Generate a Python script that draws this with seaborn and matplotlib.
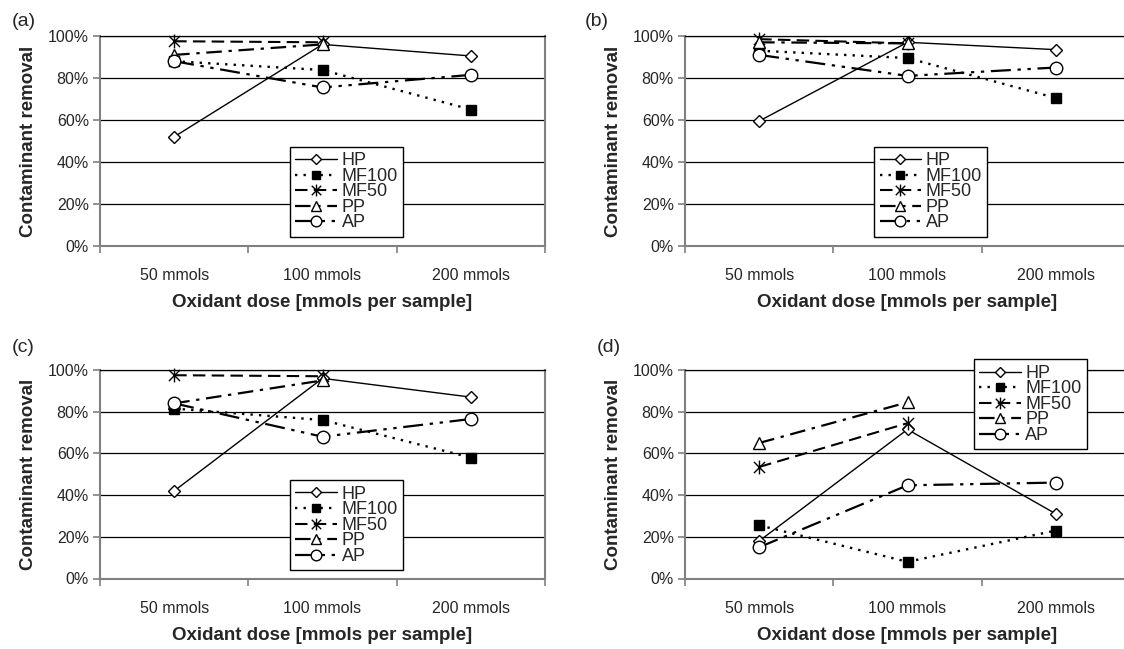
import numpy as np
import pandas as pd
import seaborn as sns
import matplotlib
matplotlib.use("Agg")
import matplotlib.pyplot as plt
from matplotlib.path import Path
from matplotlib.ticker import PercentFormatter, FixedLocator

# Data (fraction of contaminant removed)
doses = ["50 mmols", "100 mmols", "200 mmols"]
series = ["HP", "MF100", "MF50", "PP", "AP"]

a_HP = [0.52, 0.96, 0.905]
a_MF100 = [0.88, 0.838, 0.65]
a_MF50 = [0.975, 0.97, np.nan]
a_PP = [0.91, 0.96, np.nan]
a_AP = [0.88, 0.755, 0.815]

b_HP = [0.595, 0.97, 0.935]
b_MF100 = [0.93, 0.895, 0.705]
b_MF50 = [0.985, 0.965, np.nan]
b_PP = [0.97, 0.965, np.nan]
b_AP = [0.91, 0.81, 0.85]

c_HP = [0.42, 0.96, 0.87]
c_MF100 = [0.815, 0.76, 0.58]
c_MF50 = [0.975, 0.97, np.nan]
c_PP = [0.84, 0.95, np.nan]
c_AP = [0.84, 0.68, 0.765]

d_HP = [0.18, 0.715, 0.31]
d_MF100 = [0.255, 0.08, 0.23]
d_MF50 = [0.535, 0.745, np.nan]
d_PP = [0.65, 0.845, np.nan]
d_AP = [0.15, 0.447, 0.46]

panels = {
    "(a)": [a_HP, a_MF100, a_MF50, a_PP, a_AP],
    "(b)": [b_HP, b_MF100, b_MF50, b_PP, b_AP],
    "(c)": [c_HP, c_MF100, c_MF50, c_PP, c_AP],
    "(d)": [d_HP, d_MF100, d_MF50, d_PP, d_AP],
}

sns.set_style("white")
plt.rcParams['font.family'] = ['Liberation Sans', 'DejaVu Sans']

# asterisk marker: vertical bar plus an X
M, L = Path.MOVETO, Path.LINETO
asterisk = Path([(0, -1), (0, 1), (-0.8, -0.8), (0.8, 0.8), (-0.8, 0.8), (0.8, -0.8)],
                [M, L, M, L, M, L])

styles = {
    "HP":    dict(marker="D", ms=6.5, mfc="white", lw=1.0, ls="-"),
    "MF100": dict(marker="s", ms=6.5, mfc="black", lw=1.7, ls=(0, (1, 2.6))),
    "MF50":  dict(marker=asterisk, ms=10, mfc="none", lw=1.5, ls=(0, (6, 3))),
    "PP":    dict(marker="^", ms=9, mfc="white", lw=1.6, ls=(0, (7, 3, 1.5, 3))),
    "AP":    dict(marker="o", ms=9, mfc="white", lw=1.6, ls=(0, (9, 3, 1.5, 3, 1.5, 3))),
}

fig = plt.figure(figsize=(11.24, 6.49), dpi=100)
W, H = 1124, 649
axes_px = {"(a)": (100, 246, 210), "(b)": (685, 246, 210),
           "(c)": (100, 578.5, 208.5), "(d)": (685, 578.5, 208.5)}
label_px = {"(a)": (12, 22), "(b)": (585, 22), "(c)": (12, 347), "(d)": (597, 347)}
legend_anchor = {"(a)": (0.427, 0.044), "(b)": (0.425, 0.044),
                 "(c)": (0.427, 0.04), "(d)": (0.649, 0.62)}

grey = "#808080"
xpos = np.arange(len(doses))

for key, vals in panels.items():
    left, bottom, height = axes_px[key]
    ax = fig.add_axes([left / W, 1 - bottom / H, 445 / W, height / H])
    ax.yaxis.grid(True, color="black", lw=0.9)
    ax.set_axisbelow(True)

    for name, y in zip(series, vals):
        st = styles[name]
        df = pd.DataFrame({"dose": xpos, "removal": y}).dropna()
        sns.lineplot(data=df, x="dose", y="removal", ax=ax, errorbar=None,
                     color="black", label=name, marker=st["marker"],
                     markersize=st["ms"], markerfacecolor=st["mfc"],
                     markeredgecolor="black", markeredgewidth=1.0,
                     linewidth=st["lw"], linestyle=st["ls"], clip_on=False,
                     zorder=3)

    ax.set_xlim(-0.5, 2.5)
    ax.set_ylim(0, 1)
    ax.set_yticks(np.arange(0, 1.01, 0.2))
    ax.yaxis.set_major_formatter(PercentFormatter(1.0, decimals=0))
    ax.tick_params(axis="y", direction="out", length=5, width=1.2, color=grey,
                   labelsize=11.5, pad=3, left=True)

    # ticks at category boundaries, labels at category centres
    ax.xaxis.set_major_locator(FixedLocator([-0.5, 0.5, 1.5, 2.5]))
    ax.xaxis.set_minor_locator(FixedLocator(xpos))
    ax.set_xticklabels([], minor=False)
    ax.set_xticklabels(doses, minor=True)
    ax.tick_params(axis="x", which="major", direction="out", length=5, width=1.2,
                   color=grey, bottom=True)
    ax.tick_params(axis="x", which="minor", length=0, labelsize=11.5, pad=16)

    for side in ["left", "bottom", "right"]:
        ax.spines[side].set_color(grey)
        ax.spines[side].set_linewidth(1.5)
    ax.spines["top"].set_color("black")
    ax.spines["top"].set_linewidth(0.9)

    ax.set_ylabel("Contaminant removal", fontsize=13.5, fontweight="bold", labelpad=8)
    ax.set_xlabel("Oxidant dose [mmols per sample]", fontsize=13.5,
                  fontweight="bold", labelpad=8)

    leg = ax.legend(loc="lower left", bbox_to_anchor=legend_anchor[key],
                    borderaxespad=0, fontsize=13, frameon=True, fancybox=False,
                    edgecolor="black", framealpha=1, labelspacing=-0.08,
                    handlelength=2.3, handletextpad=0.25, borderpad=0.3,
                    handleheight=0.6, markerscale=0.85)
    leg.get_frame().set_linewidth(1.0)
    leg.set_zorder(10)

    lx, ly = label_px[key]
    fig.text(lx / W, 1 - ly / H, key, fontsize=14, va="center", ha="left")

fig.savefig("out.png", dpi=100)
